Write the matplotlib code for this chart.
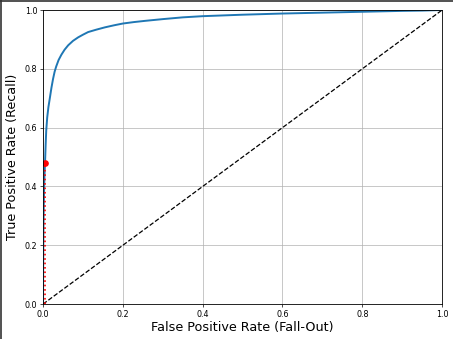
import matplotlib
matplotlib.use("Agg")
import matplotlib.pyplot as plt
from matplotlib.lines import Line2D

# ROC curve
fpr = [0.0, 0.0003, 0.0006, 0.001, 0.0018, 0.0028, 0.004, 0.005, 0.0065, 0.008,
       0.0105, 0.0135, 0.017, 0.021, 0.025, 0.029, 0.033, 0.039, 0.046, 0.054,
       0.063, 0.075, 0.088, 0.1, 0.113, 0.133, 0.155, 0.178, 0.2, 0.228, 0.255,
       0.3, 0.35, 0.4, 0.5, 0.6, 0.7, 0.8, 0.9, 0.95, 1.0]
tpr = [0.0, 0.1, 0.18, 0.25, 0.33, 0.4, 0.45, 0.48, 0.54, 0.59,
       0.635, 0.67, 0.70, 0.735, 0.765, 0.79, 0.808, 0.83, 0.848, 0.865,
       0.88, 0.895, 0.907, 0.916, 0.925, 0.933, 0.941, 0.948, 0.954, 0.959, 0.963,
       0.969, 0.975, 0.979, 0.984, 0.988, 0.991, 0.994, 0.997, 0.998, 1.0]

# operating point (90% precision threshold)
point_fpr = 0.005
point_tpr = 0.48

fig = plt.figure(figsize=(4.53, 3.39), dpi=100)
ax = fig.add_axes([0.095, 0.103, 0.881, 0.8675])

ax.plot(fpr, tpr, color="#1f77b4", linewidth=1.4)
ax.plot([0, 1], [0, 1], "k--", linewidth=0.9)
ax.plot([point_fpr, point_fpr], [0.0, point_tpr], "r:", linewidth=1.2)
ax.plot([0.0, point_fpr], [point_tpr, point_tpr], "r:", linewidth=1.2)
ax.plot([point_fpr], [point_tpr], "ro", markersize=3.8)

ax.set_xlim(0, 1)
ax.set_ylim(0, 1)
ax.set_xlabel("False Positive Rate (Fall-Out)", fontsize=9.2, labelpad=2)
ax.set_ylabel("True Positive Rate (Recall)", fontsize=9.2, labelpad=4)
ax.tick_params(labelsize=5.8, length=2.5, width=0.5, pad=1.5)
ax.grid(True, linewidth=0.5)
for spine in ax.spines.values():
    spine.set_linewidth(0.6)

# dark frame on the top and left edges of the image
fig.add_artist(Line2D([0, 1], [0.998, 0.998], transform=fig.transFigure, color="#333333", linewidth=1.2))
fig.add_artist(Line2D([0.002, 0.002], [0, 1], transform=fig.transFigure, color="#333333", linewidth=1.2))

fig.savefig("out.png", dpi=100)
